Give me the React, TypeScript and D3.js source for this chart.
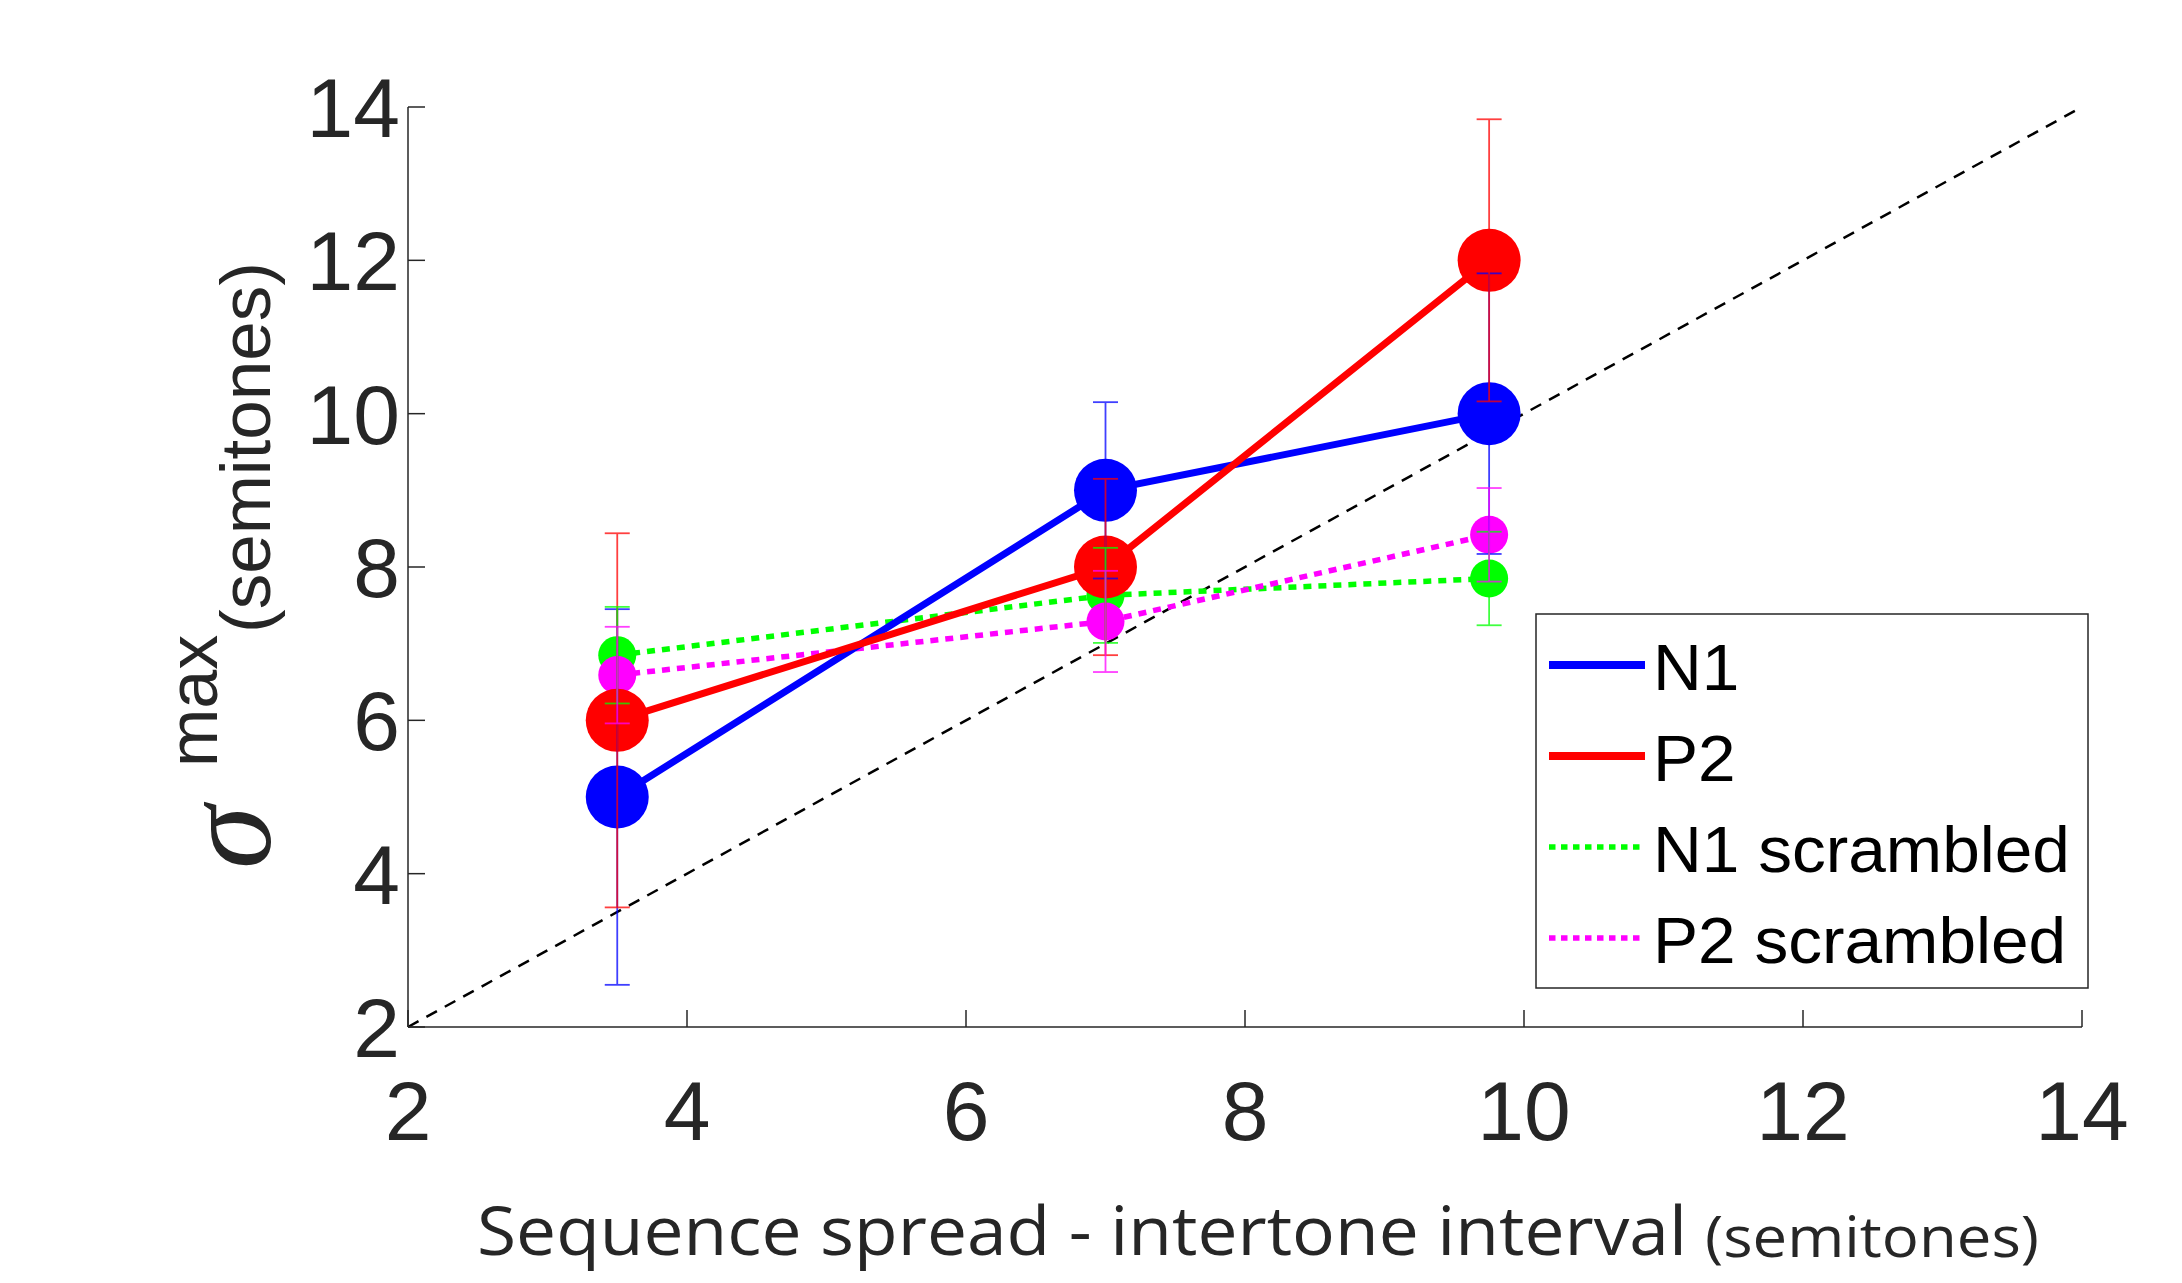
import React from 'react';
import * as d3 from 'd3';

// ---- data ----
const xValues = [3.5, 7, 9.75];
const n1Values = [5, 9, 10];
const n1Errors = [2.45, 1.15, 1.83];
const p2Values = [6, 8, 12];
const p2Errors = [2.44, 1.15, 1.84];
const n1ScrambledValues = [6.85, 7.63, 7.85];
const n1ScrambledErrors = [0.63, 0.62, 0.61];
const p2ScrambledValues = [6.59, 7.29, 8.42];
const p2ScrambledErrors = [0.63, 0.66, 0.61];
const tickValues = [2, 4, 6, 8, 10, 12, 14];
const seriesLabels = ['N1', 'P2', 'N1 scrambled', 'P2 scrambled'];
const seriesColors = ['#0000ff', '#ff0000', '#00ff00', '#ff00ff'];
const identityLine = [2, 14];

const W = 2182;
const H = 1283;
const FONT = "'Liberation Sans', Arial, Helvetica, sans-serif";
const AX = '#262626';

export default function App() {
  const x = d3.scaleLinear().domain([2, 14]).range([408, 2082]);
  const y = d3.scaleLinear().domain([2, 14]).range([1027, 107]);

  const series = [
    { label: seriesLabels[0], color: seriesColors[0], vals: n1Values, errs: n1Errors, dotted: false, r: 31.5 },
    { label: seriesLabels[1], color: seriesColors[1], vals: p2Values, errs: p2Errors, dotted: false, r: 31.5 },
    { label: seriesLabels[2], color: seriesColors[2], vals: n1ScrambledValues, errs: n1ScrambledErrors, dotted: true, r: 19 },
    { label: seriesLabels[3], color: seriesColors[3], vals: p2ScrambledValues, errs: p2ScrambledErrors, dotted: true, r: 19 },
  ];
  const lineOrder = [2, 3, 0, 1];

  const line = d3
    .line<number>()
    .x((_, i) => x(xValues[i]))
    .y((d) => y(d));

  const diag = d3
    .line<number>()
    .x((d) => x(d))
    .y((d) => y(d));

  const legendX0 = 1536;
  const legendY0 = 614;
  const legendW = 552;
  const legendH = 374;
  const legendBaselines = [690, 781, 872, 963];

  return (
    <svg width={W} height={H} style={{ position: 'absolute', left: 0, top: 0, background: '#fff' }}>
      <rect x={0} y={0} width={W} height={H} fill="#fff" />

      {/* identity line */}
      <path d={diag(identityLine) || ''} fill="none" stroke="#000" strokeWidth={2.5} strokeDasharray="12 9" />

      {/* series lines */}
      {lineOrder.map((si) => {
        const s = series[si];
        return (
          <path
            key={'l' + si}
            d={line(s.vals) || ''}
            fill="none"
            stroke={s.color}
            strokeWidth={s.dotted ? 5.5 : 7}
            strokeDasharray={s.dotted ? '8 7' : undefined}
          />
        );
      })}

      {/* markers */}
      {lineOrder.map((si) => {
        const s = series[si];
        return (
          <g key={'m' + si}>
            {s.vals.map((v, i) => (
              <circle key={i} cx={x(xValues[i])} cy={y(v)} r={s.r} fill={s.color} />
            ))}
          </g>
        );
      })}

      {/* error bars */}
      {[0, 1, 2, 3].map((si) => {
        const s = series[si];
        return (
          <g key={'e' + si} stroke={s.color} strokeWidth={1.8} opacity={0.75}>
            {s.vals.map((v, i) => {
              const cx = x(xValues[i]);
              const top = y(v + s.errs[i]);
              const bot = y(v - s.errs[i]);
              return (
                <g key={i}>
                  <line x1={cx} x2={cx} y1={top} y2={bot} />
                  <line x1={cx - 12.5} x2={cx + 12.5} y1={top} y2={top} />
                  <line x1={cx - 12.5} x2={cx + 12.5} y1={bot} y2={bot} />
                </g>
              );
            })}
          </g>
        );
      })}

      {/* axes */}
      <g stroke={AX} strokeWidth={1.5} fill="none">
        <line x1={x(2)} x2={x(14)} y1={y(2)} y2={y(2)} />
        <line x1={x(2)} x2={x(2)} y1={y(2)} y2={y(14)} />
        {tickValues.map((t) => (
          <line key={'xt' + t} x1={x(t)} x2={x(t)} y1={y(2)} y2={y(2) - 17} />
        ))}
        {tickValues.map((t) => (
          <line key={'yt' + t} x1={x(2)} x2={x(2) + 17} y1={y(t)} y2={y(t)} />
        ))}
      </g>
      <g fill={AX} fontFamily={FONT} fontSize={84}>
        {tickValues.map((t) => (
          <text key={'xl' + t} x={x(t)} y={1140} textAnchor="middle">
            {t}
          </text>
        ))}
        {tickValues.map((t) => (
          <text key={'yl' + t} x={400} y={y(t) + 30} textAnchor="end">
            {t}
          </text>
        ))}
      </g>

      {/* x label */}
      <g fill={AX} fontFamily="'Open Sans', sans-serif">
        <text x={477} y={1255} fontSize={68} textLength={1210} lengthAdjust="spacingAndGlyphs">
          Sequence spread - intertone interval
        </text>
        <text x={1705} y={1257} fontSize={56} textLength={334} lengthAdjust="spacingAndGlyphs">
          (semitones)
        </text>
      </g>

      {/* y label */}
      <g transform="translate(270, 869) rotate(-90)" fill={AX}>
        <text x={0} y={0} fontSize={128} fontFamily="'Liberation Serif', 'DejaVu Serif', serif" fontStyle="italic">σ</text>
        <text x={102} y={-53} fontSize={70} fontFamily={FONT}>max</text>
        <text x={236} y={0} fontSize={70} fontFamily={FONT} textLength={371} lengthAdjust="spacingAndGlyphs">(semitones)</text>
      </g>

      {/* legend */}
      <rect x={legendX0} y={legendY0} width={legendW} height={legendH} fill="#fff" stroke={AX} strokeWidth={1.5} />
      {series.map((s, i) => (
        <g key={'lg' + i}>
          <line
            x1={1549}
            x2={s.dotted ? 1642 : 1645}
            y1={legendBaselines[i] - 25}
            y2={legendBaselines[i] - 25}
            stroke={s.color}
            strokeWidth={s.dotted ? 5.5 : 8}
            strokeDasharray={s.dotted ? '6.5 5.5' : undefined}
          />
          <g transform={`translate(1653, ${legendBaselines[i]}) scale(1.04, 1)`}>
            <text x={0} y={0} fontFamily={FONT} fontSize={65} fill="#000">
              {s.label}
            </text>
          </g>
        </g>
      ))}
    </svg>
  );
}
